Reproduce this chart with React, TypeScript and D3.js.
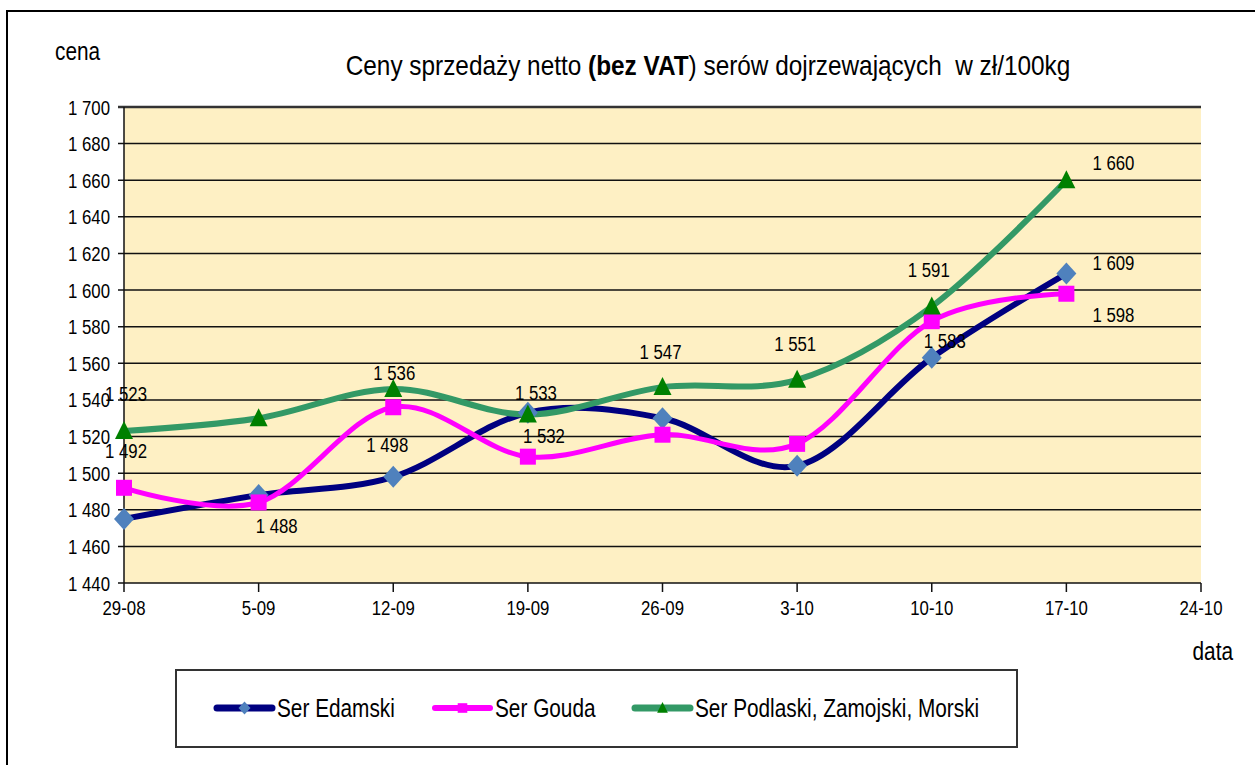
import * as d3 from "d3"

// dane z wykresu (zł/100kg)
const categories = ['29-08', '5-09', '12-09', '19-09', '26-09', '3-10', '10-10', '17-10', '24-10']
const edamski = [1475, 1488, 1498, 1533, 1530, 1504, 1563, 1609]
const gouda = [1492, 1484, 1536, 1509, 1521, 1516, 1583, 1598]
const podlaski = [1523, 1530, 1546, 1532, 1547, 1551, 1591, 1660]
const yTicks = [1440, 1460, 1480, 1500, 1520, 1540, 1560, 1580, 1600, 1620, 1640, 1660, 1680, 1700]
const seriesNames = ['Ser Edamski', 'Ser Gouda', 'Ser Podlaski, Zamojski, Morski']

// which points carry a data label: [series index, point index]
const labelled = [
  [2, 0], [1, 0], [0, 1], [0, 2], [1, 2], [0, 3], [2, 3],
  [2, 4], [2, 5], [2, 6], [1, 6], [0, 7], [1, 7], [2, 7],
]
// label offsets from the point (layout only)
const labelOffsets = [
  [2, -38], [2, -37], [18, 30], [-6, -32], [1, -35], [8, -20], [16, 21],
  [-2, -36], [-2, -36], [-3, -37], [13, 19], [47, -11], [47, 21], [47, -18],
]

const W = 1255
const H = 765
const FONT = '"Liberation Sans", Arial, sans-serif'
const SX = 0.8

const fmt = (v: number) => `${Math.floor(v / 1000)} ${String(v % 1000).padStart(3, '0')}`

function CText({ x, y, size, anchor = 'start', children, sx = SX }: any) {
  return (
    <text
      transform={`translate(${x},${y}) scale(${sx},1)`}
      fontSize={size}
      fontFamily={FONT}
      textAnchor={anchor}
      fill="#000"
    >
      {children}
    </text>
  )
}

function Marker({ kind, x, y, s = 1 }: any) {
  if (kind === 0) {
    const a = 10 * s, b = 11 * s
    return <path d={`M${x},${y - b}L${x + a},${y}L${x},${y + b}L${x - a},${y}Z`} fill="#4F81BD" />
  }
  if (kind === 1) {
    const a = 8 * s
    return <rect x={x - a} y={y - a} width={2 * a} height={2 * a} fill="#FF00FF" />
  }
  const a = 9 * s, h = 10 * s
  return <path d={`M${x},${y - h}L${x + a},${y + h * 0.8}L${x - a},${y + h * 0.8}Z`} fill="#008000" />
}

export default function App() {
  const left = 124, right = 1201, top = 107, bottom = 583
  const x = d3.scalePoint<string>().domain(categories).range([left, right])
  const y = d3.scaleLinear().domain([1440, 1700]).range([bottom, top])

  const all = [edamski, gouda, podlaski]
  const lineColors = ['#000080', '#FF00FF', '#339966']
  const lineWidths = [6, 5, 6]

  const line = d3.line<number>()
    .x((_, i) => x(categories[i]) as number)
    .y((d) => y(d))
    .curve(d3.curveCardinal.tension(0))

  const legendX = [217, 435, 635]

  return (
    <svg width={W} height={H} style={{ position: 'absolute', left: 0, top: 0, background: '#fff' }}>
      <rect x={7} y={11} width={W + 20} height={H + 20} fill="#fff" stroke="#000" strokeWidth={2} />

      {/* plot area */}
      <rect x={left} y={top} width={right - left} height={bottom - top} fill="#FEF0C4" />
      {yTicks.map((t) => (
        <g key={t}>
          <line x1={left - 6} x2={right} y1={y(t)} y2={y(t)}
            stroke={t === 1700 ? '#333' : '#111'} strokeWidth={t === 1700 ? 2.5 : 1.5} />
          <CText x={110} y={y(t) + 7.5} size={21} anchor="end">{fmt(t)}</CText>
        </g>
      ))}
      <line x1={left} x2={left} y1={top} y2={bottom} stroke="#111" strokeWidth={1.5} />
      {categories.map((c) => (
        <g key={c}>
          <line x1={x(c)} x2={x(c)} y1={bottom} y2={bottom + 9} stroke="#111" strokeWidth={1.5} />
          <CText x={x(c)} y={615} size={21} anchor="middle">{c}</CText>
        </g>
      ))}

      {/* series */}
      {all.map((s, k) => (
        <path key={k} d={line(s) as string} fill="none" stroke={lineColors[k]}
          strokeWidth={lineWidths[k]} strokeLinejoin="round" strokeLinecap="round" />
      ))}
      {all.map((s, k) =>
        s.map((v, i) => <Marker key={`${k}-${i}`} kind={k} x={x(categories[i])} y={y(v)} />)
      )}

      {/* data labels */}
      {labelled.map(([k, i], j) => (
        <CText key={j} x={(x(categories[i]) as number) + labelOffsets[j][0]}
          y={y(all[k][i]) + labelOffsets[j][1] + 7.5} size={21} anchor="middle">
          {fmt(all[k][i])}
        </CText>
      ))}

      {/* titles */}
      <CText x={708} y={75} size={28} anchor="middle" sx={0.87}>
        Ceny sprzedaży netto <tspan fontWeight="bold">(bez VAT</tspan>) serów dojrzewających{'\u00a0'} w zł/100kg
      </CText>
      <CText x={55} y={60} size={26}>cena</CText>
      <CText x={1233} y={660} size={26} anchor="end">data</CText>

      {/* legend */}
      <rect x={176} y={670} width={841} height={77} fill="#fff" stroke="#333" strokeWidth={2} />
      {seriesNames.map((n, k) => (
        <g key={n}>
          <line x1={legendX[k]} x2={legendX[k] + 55} y1={708} y2={708} stroke={lineColors[k]}
            strokeWidth={lineWidths[k] + 1} strokeLinecap="round" />
          <Marker kind={k} x={legendX[k] + 27.5} y={708} s={0.6} />
          <CText x={legendX[k] + 60} y={717} size={26}>{n}</CText>
        </g>
      ))}
    </svg>
  )
}
